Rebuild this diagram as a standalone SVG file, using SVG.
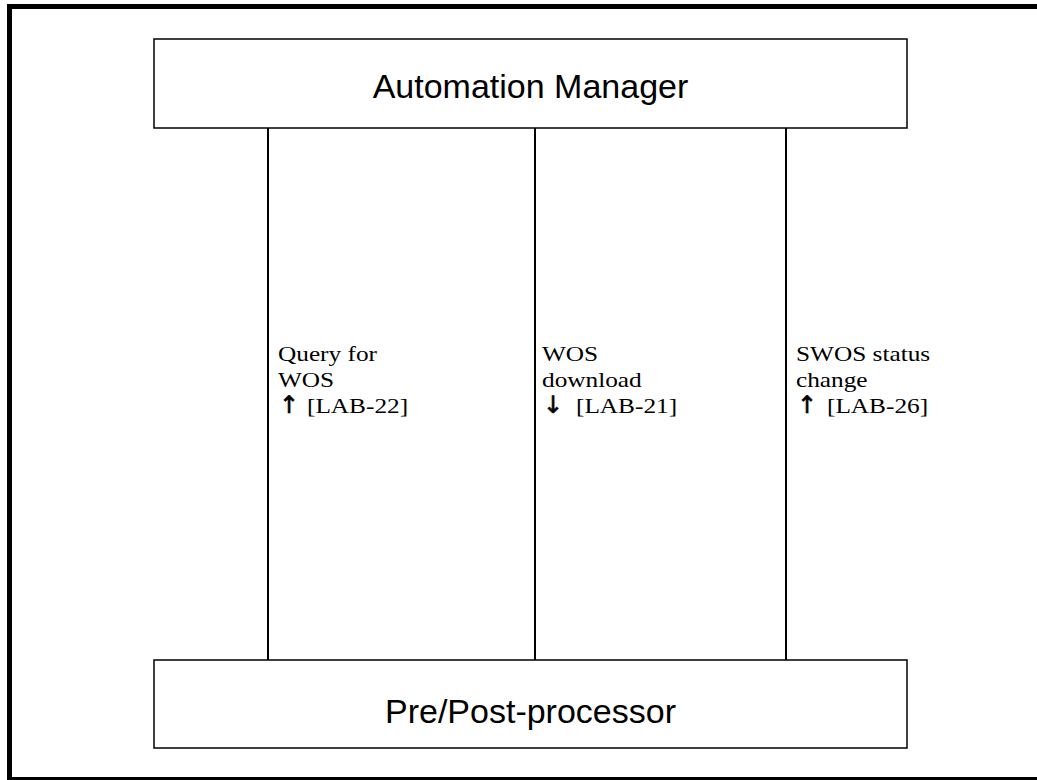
<svg xmlns="http://www.w3.org/2000/svg" width="1037" height="780" viewBox="0 0 1037 780">
<style>
.box{fill:#fff;stroke:#000;stroke-width:1.5}
.title{font-family:"Liberation Sans",Arial,sans-serif;font-size:34px;fill:#000;text-anchor:middle}
.lbl{font-family:"Liberation Serif","Times New Roman",serif;font-size:22px;fill:#000}
.arr{font-family:"DejaVu Sans",sans-serif;font-size:24px;fill:#000;stroke:#000;stroke-width:0.6}
.conn{stroke:#000;stroke-width:2;fill:none}
.frame{fill:none;stroke:#000;stroke-width:5}
</style>
<path class="frame" d="M1037 6.5H9.5V779.5H1037"/>
<g id="connectors">
<line class="conn" x1="268" y1="128" x2="268" y2="660"/>
<line class="conn" x1="535" y1="128" x2="535" y2="660"/>
<line class="conn" x1="786" y1="128" x2="786" y2="660"/>
<g transform="translate(278,0) scale(1.15,1)">
<text class="lbl" x="0" y="361">Query for</text>
<text class="lbl" x="0" y="387">WOS</text>
</g>
<text class="arr" x="279" y="413">↑</text>
<text class="lbl" transform="translate(307,413) scale(1.15,1)">[LAB-22]</text>
<g transform="translate(542,0) scale(1.15,1)">
<text class="lbl" x="0" y="361">WOS</text>
<text class="lbl" x="0" y="387">download</text>
</g>
<text class="arr" x="543" y="413">↓</text>
<text class="lbl" transform="translate(576,413) scale(1.15,1)">[LAB-21]</text>
<g transform="translate(796,0) scale(1.15,1)">
<text class="lbl" x="0" y="361">SWOS status</text>
<text class="lbl" x="0" y="387">change</text>
</g>
<text class="arr" x="797" y="413">↑</text>
<text class="lbl" transform="translate(827,413) scale(1.15,1)">[LAB-26]</text>
</g>
<g id="automation-manager">
<rect class="box" x="154" y="39" width="753" height="89"/>
<text class="title" x="530.5" y="98">Automation Manager</text>
</g>
<g id="pre-post-processor">
<rect class="box" x="154" y="660" width="753" height="88"/>
<text class="title" x="530.5" y="723">Pre/Post-processor</text>
</g>
</svg>
